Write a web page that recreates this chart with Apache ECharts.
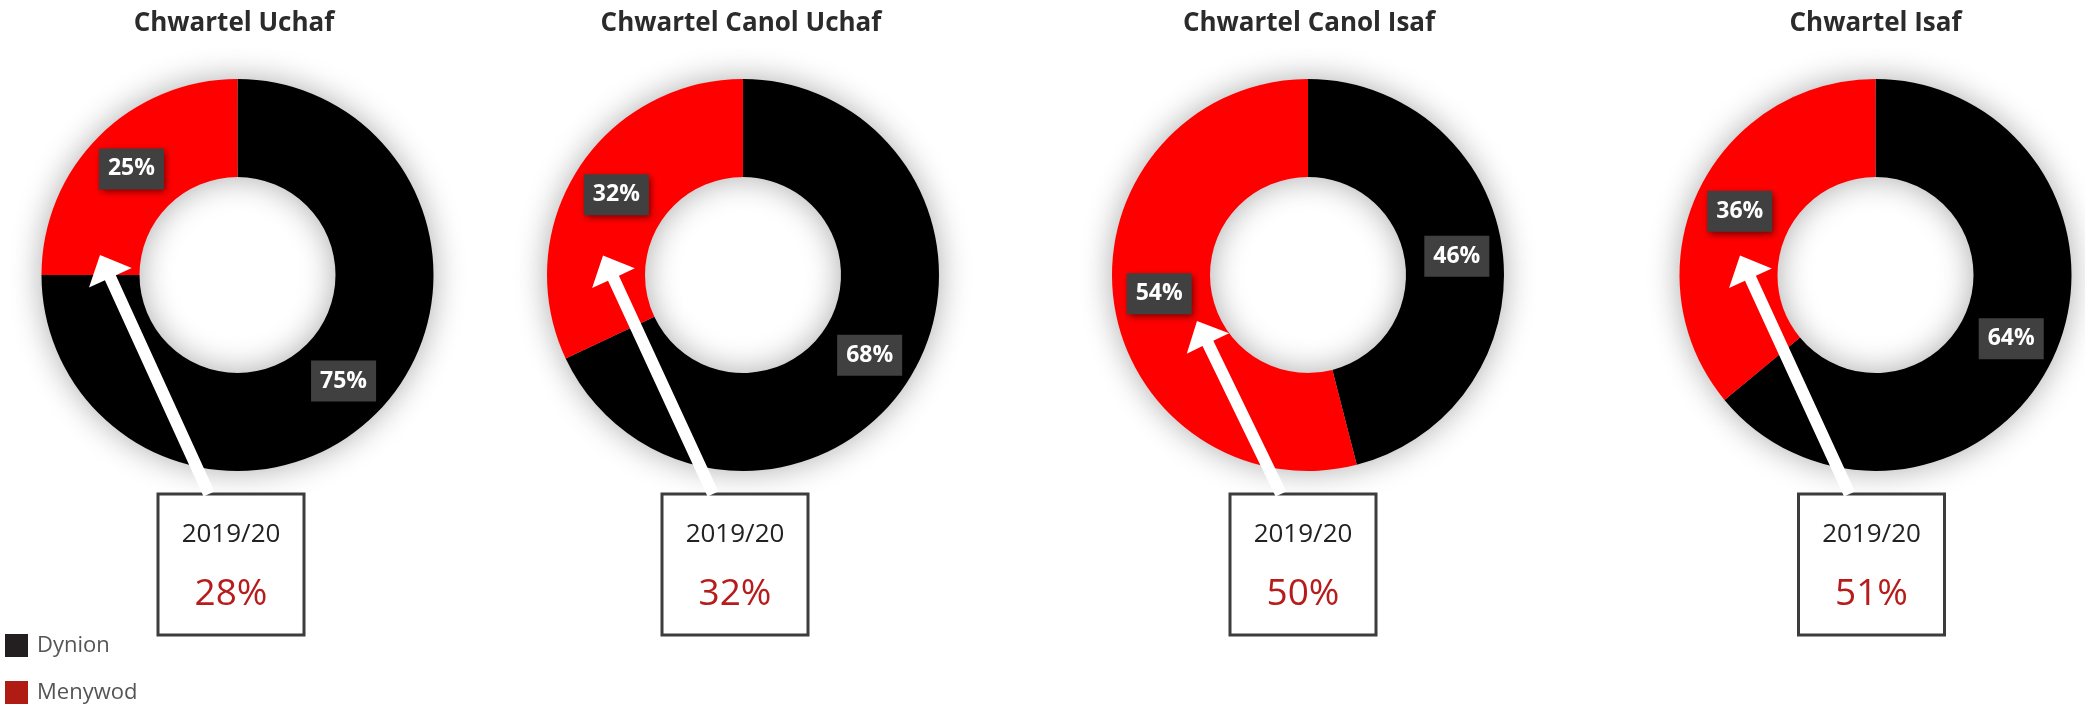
<!DOCTYPE html>
<html>
<head>
<meta charset="utf-8">
<script src="https://cdn.jsdelivr.net/npm/echarts@6/dist/echarts.min.js"></script>
<style>
  body { margin: 0; background: #fff; }
  #chart { width: 2085px; height: 707px; }
</style>
</head>
<body>
<div id="chart"></div>
<script>
var regions = ['Chwartel Uchaf', 'Chwartel Canol Uchaf', 'Chwartel Canol Isaf', 'Chwartel Isaf'];
var dynion = [75, 68, 46, 64];
var menywod = [25, 32, 54, 36];
var yearLabel = '2019/20';
var yearValues = [28, 32, 50, 51];

// layout (px)
var donutX = [237.5, 743, 1308, 1875.5];
var titleX = [229, 736, 1304, 1870.5];
var boxX = [231, 735, 1303, 1871.5];
var arrowTip = [[-137.5, -20], [-140, -19.5], [-111, 46], [-135.5, -19.5]];
var donutY = 275;
var font = '"Open Sans", sans-serif';

var chart = echarts.init(document.getElementById('chart'));

function arrowPoints(tail, tip) {
  var dx = tip[0] - tail[0], dy = tip[1] - tail[1];
  var len = Math.sqrt(dx * dx + dy * dy);
  var ux = dx / len, uy = dy / len;
  var nx = -uy, ny = ux;
  var headLen = 25, headW = 47, shaftW = 12;
  var bx = tip[0] - ux * headLen, by = tip[1] - uy * headLen;
  return [
    [tail[0] + nx * shaftW / 2, tail[1] + ny * shaftW / 2],
    [bx + nx * shaftW / 2, by + ny * shaftW / 2],
    [bx + nx * headW / 2, by + ny * headW / 2],
    tip,
    [bx - nx * headW / 2, by - ny * headW / 2],
    [bx - nx * shaftW / 2, by - ny * shaftW / 2],
    [tail[0] - nx * shaftW / 2, tail[1] - ny * shaftW / 2]
  ];
}

var series = [];
var titles = [];
var graphics = [];

for (var i = 0; i < regions.length; i++) {
  series.push({
    type: 'pie',
    center: [donutX[i], donutY],
    radius: [98, 196],
    startAngle: 90,
    clockwise: true,
    silent: true,
    itemStyle: {
      shadowBlur: 32,
      shadowColor: 'rgba(0,0,0,0.33)'
    },
    label: {
      show: true,
      position: 'inside',
      formatter: '{c}%',
      color: '#fff',
      fontFamily: font,
      fontWeight: 'bold',
      fontSize: 23,
      backgroundColor: '#404040',
      padding: [10, 9, 8, 9],
      shadowBlur: 7,
      shadowColor: 'rgba(0,0,0,0.55)',
      shadowOffsetX: 2,
      shadowOffsetY: 3
    },
    labelLine: { show: false },
    data: [
      { name: 'Dynion', value: dynion[i], itemStyle: { color: '#000000' } },
      { name: 'Menywod', value: menywod[i], itemStyle: { color: '#ff0000' } }
    ]
  });

  titles.push({
    text: regions[i],
    left: titleX[i],
    top: 6,
    textAlign: 'center',
    textStyle: { fontFamily: font, fontWeight: 'bold', fontSize: 26, color: '#2b2b2b' }
  });

  // arrow from box up to the Menywod slice
  var tail = [boxX[i] - 22, 494];
  var tip = [donutX[i] + arrowTip[i][0], donutY + arrowTip[i][1]];
  graphics.push({
    type: 'polygon',
    z: 100,
    shape: { points: arrowPoints(tail, tip) },
    style: { fill: '#ffffff' }
  });

  // year box
  graphics.push({
    type: 'rect',
    z: 90,
    shape: { x: boxX[i] - 73, y: 494, width: 146, height: 141 },
    style: { fill: '#ffffff', stroke: '#3c3c3c', lineWidth: 3 }
  });
  graphics.push({
    type: 'text',
    z: 101,
    x: boxX[i],
    y: 535,
    style: { text: yearLabel, font: '500 26px ' + font, fill: '#222', align: 'center', verticalAlign: 'middle' }
  });
  graphics.push({
    type: 'text',
    z: 101,
    x: boxX[i],
    y: 594,
    style: { text: yearValues[i] + '%', font: '500 37px ' + font, fill: '#b71c1c', align: 'center', verticalAlign: 'middle' }
  });
}

var option = {
  animation: false,
  backgroundColor: '#ffffff',
  title: titles,
  legend: {
    orient: 'vertical',
    left: 5,
    top: 634,
    padding: 0,
    icon: 'rect',
    itemWidth: 23,
    itemHeight: 23,
    itemGap: 24,
    selectedMode: false,
    itemStyle: { shadowBlur: 0, shadowColor: 'transparent' },
    textStyle: { fontFamily: font, fontSize: 22, color: '#555', padding: [0, 0, 0, 4] },
    data: [
      { name: 'Dynion', itemStyle: { color: '#231f20' } },
      { name: 'Menywod', itemStyle: { color: '#b01c14' } }
    ]
  },
  graphic: graphics,
  series: series
};

chart.setOption(option);
</script>
</body>
</html>
